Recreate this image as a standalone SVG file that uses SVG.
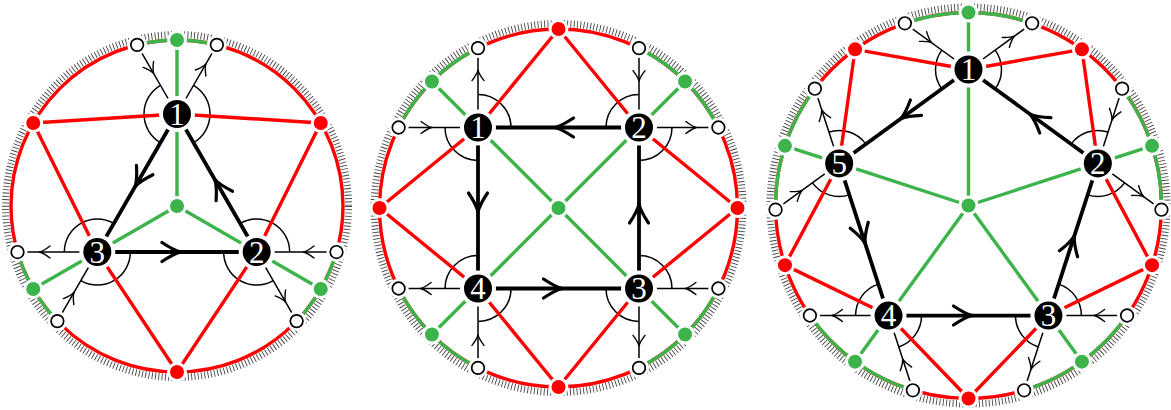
<svg xmlns="http://www.w3.org/2000/svg" xmlns:xlink="http://www.w3.org/1999/xlink" width="1171" height="410" viewBox="0 0 1171 410">
<style>
.tick{fill:none;stroke:#444;stroke-width:7;stroke-dasharray:0.9 2.4}
.ringr{fill:none;stroke:#f00;stroke-width:3.4}
.ringg{fill:none;stroke:#3cb44b;stroke-width:3.4}
.red{fill:none;stroke:#f00;stroke-width:3.4}
.grn{fill:none;stroke:#3cb44b;stroke-width:3.4}
.thk{fill:none;stroke:#000;stroke-width:3.8}
.thn{fill:none;stroke:#000;stroke-width:1.5}
.ang{fill:none;stroke:#000;stroke-width:1.5}
.rd{fill:#f00;stroke:#fff;stroke-width:6;paint-order:stroke}
.gd{fill:#3cb44b;stroke:#fff;stroke-width:6;paint-order:stroke}
.num{font-family:"Liberation Serif","DejaVu Serif",serif;font-size:31px;fill:#fff;text-anchor:middle}
</style>
<defs>
<path id="ahk" d="M-19,-9.5 Q-7,-1.5 0,0 Q-7,1.5 -19,9.5" fill="none" stroke="#000" stroke-width="3.2" stroke-linecap="round" stroke-linejoin="round"/>
<path id="ahn" d="M-10.5,-6 Q-4,-1 0,0 Q-4,1 -10.5,6" fill="none" stroke="#000" stroke-width="1.4" stroke-linecap="round" stroke-linejoin="round"/>
<g id="wc"><circle r="10" fill="#fff"/><circle r="6.3" fill="#fff" stroke="#000" stroke-width="1.7"/></g>
<g id="nd"><circle r="18" fill="#fff"/><circle r="14" fill="#000"/></g>
</defs>

<!-- Diagram 1 -->
<g id="d1-boundary">
<circle class="tick" cx="177" cy="206" r="171.5"/>
<circle class="ringr" cx="177" cy="206" r="166"/>
<path class="ringg" d="M216.87,44.86 A166,166 0 0,0 137.13,44.86 M17.51,252.03 A166,166 0 0,0 57.38,321.10 M296.62,321.10 A166,166 0 0,0 336.49,252.03"/>
</g>
<g id="d1-angles" class="ang">
<path d="M193.5,142.58 A33,33 0 0,0 193.5,85.42 M160.5,85.42 A33,33 0 0,0 160.5,142.58"/>
<path d="M113.83,223.42 A33,33 0 0,0 64.33,252 M80.83,280.58 A33,33 0 0,0 130.33,252"/>
<path d="M223.67,252 A33,33 0 0,0 273.17,280.58 M289.67,252 A33,33 0 0,0 240.17,223.42"/>
</g>
<g id="d1-connectors">
<path class="red" d="M33.24,123 L177,114 M33.24,123 L97.33,252 M320.76,123 L177,114 M320.76,123 L256.67,252 M177,372 L97.33,252 M177,372 L256.67,252"/>
<path class="grn" d="M177,206 L177,114 M177,206 L256.67,252 M177,206 L97.33,252 M177,40 L177,114 M33.24,289 L97.33,252 M320.76,289 L256.67,252"/>
<path class="thn" d="M137.13,44.86 L177,114 M216.87,44.86 L177,114 M17.51,252 L97.33,252 M57.38,321.10 L97.33,252 M336.49,252 L256.67,252 M296.62,321.10 L256.67,252"/>
<path class="thk" d="M177,114 L97.33,252 L256.67,252 Z"/>
<use xlink:href="#ahn" href="#ahn" transform="translate(153.62,73.45) rotate(60)"/>
<use xlink:href="#ahn" href="#ahn" transform="translate(205.88,63.92) rotate(-60)"/>
<use xlink:href="#ahn" href="#ahn" transform="translate(39.51,252) rotate(180)"/>
<use xlink:href="#ahn" href="#ahn" transform="translate(73.90,292.53) rotate(-60)"/>
<use xlink:href="#ahn" href="#ahn" transform="translate(303.49,252) rotate(180)"/>
<use xlink:href="#ahn" href="#ahn" transform="translate(285.61,302.05) rotate(60)"/>
<use xlink:href="#ahk" href="#ahk" transform="translate(135.17,186.46) rotate(120)"/>
<use xlink:href="#ahk" href="#ahk" transform="translate(181,252)"/>
<use xlink:href="#ahk" href="#ahk" transform="translate(214.83,179.54) rotate(-120)"/>
</g>
<g id="d1-dots">
<circle class="rd" cx="33.24" cy="123" r="7"/>
<circle class="rd" cx="320.76" cy="123" r="7"/>
<circle class="rd" cx="177" cy="372" r="7"/>
<circle class="gd" cx="177" cy="40" r="7"/>
<circle class="gd" cx="33.24" cy="289" r="7"/>
<circle class="gd" cx="320.76" cy="289" r="7"/>
<circle class="gd" cx="177" cy="206" r="7"/>
<use href="#wc" xlink:href="#wc" x="137.13" y="44.86"/>
<use href="#wc" xlink:href="#wc" x="216.87" y="44.86"/>
<use href="#wc" xlink:href="#wc" x="17.51" y="252.03"/>
<use href="#wc" xlink:href="#wc" x="57.38" y="321.10"/>
<use href="#wc" xlink:href="#wc" x="296.62" y="321.10"/>
<use href="#wc" xlink:href="#wc" x="336.49" y="252.03"/>
</g>
<g id="d1-n1"><use href="#nd" xlink:href="#nd" x="177" y="114"/><text class="num" x="177" y="124.5">1</text></g>
<g id="d1-n2"><use href="#nd" xlink:href="#nd" x="256.67" y="252"/><text class="num" x="256.67" y="262.5">2</text></g>
<g id="d1-n3"><use href="#nd" xlink:href="#nd" x="97.33" y="252"/><text class="num" x="97.33" y="262.5">3</text></g>

<!-- Diagram 2 -->
<g id="d2-boundary">
<circle class="tick" cx="558.5" cy="208" r="184.5"/>
<circle class="ringr" cx="558.5" cy="208" r="179"/>
<path class="ringg" d="M478,48.12 A179,179 0 0,0 398.62,127.5 M398.62,288.5 A179,179 0 0,0 478,367.88 M639,367.88 A179,179 0 0,0 718.38,288.5 M718.38,127.5 A179,179 0 0,0 639,48.12"/>
</g>
<g id="d2-angles" class="ang">
<path d="M511,127.5 A33,33 0 0,0 478,94.5 M445,127.5 A33,33 0 0,0 478,160.5"/>
<path d="M639,160.5 A33,33 0 0,0 672,127.5 M639,94.5 A33,33 0 0,0 606,127.5"/>
<path d="M606,288.5 A33,33 0 0,0 639,321.5 M672,288.5 A33,33 0 0,0 639,255.5"/>
<path d="M478,255.5 A33,33 0 0,0 445,288.5 M478,321.5 A33,33 0 0,0 511,288.5"/>
</g>
<g id="d2-connectors">
<path class="red" d="M558.5,29 L478,127.5 M558.5,29 L639,127.5 M737.5,208 L639,127.5 M737.5,208 L639,288.5 M558.5,387 L639,288.5 M558.5,387 L478,288.5 M379.5,208 L478,288.5 M379.5,208 L478,127.5"/>
<path class="grn" d="M558.5,208 L478,127.5 M558.5,208 L639,127.5 M558.5,208 L639,288.5 M558.5,208 L478,288.5 M431.93,81.43 L478,127.5 M685.07,81.43 L639,127.5 M685.07,334.57 L639,288.5 M431.93,334.57 L478,288.5"/>
<path class="thn" d="M478,48.12 L478,127.5 M398.62,127.5 L478,127.5 M639,48.12 L639,127.5 M718.38,127.5 L639,127.5 M718.38,288.5 L639,288.5 M639,367.88 L639,288.5 M398.62,288.5 L478,288.5 M478,367.88 L478,288.5"/>
<path class="thk" d="M478,127.5 L639,127.5 L639,288.5 L478,288.5 Z"/>
<use href="#ahn" xlink:href="#ahn" transform="translate(478,70.12) rotate(-90)"/>
<use href="#ahn" xlink:href="#ahn" transform="translate(431.62,127.5)"/>
<use href="#ahn" xlink:href="#ahn" transform="translate(639,81.12) rotate(90)"/>
<use href="#ahn" xlink:href="#ahn" transform="translate(696.38,127.5)"/>
<use href="#ahn" xlink:href="#ahn" transform="translate(685.38,288.5) rotate(180)"/>
<use href="#ahn" xlink:href="#ahn" transform="translate(639,345.88) rotate(90)"/>
<use href="#ahn" xlink:href="#ahn" transform="translate(420.62,288.5) rotate(180)"/>
<use href="#ahn" xlink:href="#ahn" transform="translate(478,334.88) rotate(-90)"/>
<use href="#ahk" xlink:href="#ahk" transform="translate(554.5,127.5) rotate(180)"/>
<use href="#ahk" xlink:href="#ahk" transform="translate(478,212) rotate(90)"/>
<use href="#ahk" xlink:href="#ahk" transform="translate(562.5,288.5)"/>
<use href="#ahk" xlink:href="#ahk" transform="translate(639,204) rotate(-90)"/>
</g>
<g id="d2-dots">
<circle class="rd" cx="558.5" cy="29" r="7"/>
<circle class="rd" cx="737.5" cy="208" r="7"/>
<circle class="rd" cx="558.5" cy="387" r="7"/>
<circle class="rd" cx="379.5" cy="208" r="7"/>
<circle class="gd" cx="431.93" cy="81.43" r="7"/>
<circle class="gd" cx="685.07" cy="81.43" r="7"/>
<circle class="gd" cx="685.07" cy="334.57" r="7"/>
<circle class="gd" cx="431.93" cy="334.57" r="7"/>
<circle class="gd" cx="558.5" cy="208" r="7"/>
<use href="#wc" xlink:href="#wc" x="478" y="48.12"/>
<use href="#wc" xlink:href="#wc" x="398.62" y="127.5"/>
<use href="#wc" xlink:href="#wc" x="639" y="48.12"/>
<use href="#wc" xlink:href="#wc" x="718.38" y="127.5"/>
<use href="#wc" xlink:href="#wc" x="718.38" y="288.5"/>
<use href="#wc" xlink:href="#wc" x="639" y="367.88"/>
<use href="#wc" xlink:href="#wc" x="398.62" y="288.5"/>
<use href="#wc" xlink:href="#wc" x="478" y="367.88"/>
</g>
<g id="d2-n1"><use href="#nd" xlink:href="#nd" x="478" y="127.5"/><text class="num" x="478" y="138">1</text></g>
<g id="d2-n2"><use href="#nd" xlink:href="#nd" x="639" y="127.5"/><text class="num" x="639" y="138">2</text></g>
<g id="d2-n3"><use href="#nd" xlink:href="#nd" x="639" y="288.5"/><text class="num" x="639" y="299">3</text></g>
<g id="d2-n4"><use href="#nd" xlink:href="#nd" x="478" y="288.5"/><text class="num" x="478" y="299">4</text></g>

<!-- Diagram 3 -->
<g id="d3-boundary">
<circle class="tick" cx="968.5" cy="205.5" r="198.5"/>
<circle class="ringr" cx="968.5" cy="205.5" r="193"/>
<path class="ringg" d="M1032.13,23.29 A193,193 0 0,0 904.87,23.29 M1161.45,209.71 A193,193 0 0,0 1122.13,88.68 M1024.12,390.31 A193,193 0 0,0 1127.08,315.51 M809.92,315.51 A193,193 0 0,0 912.88,390.31 M814.87,88.68 A193,193 0 0,0 775.55,209.71"/>
</g>
<g id="d3-angles" class="ang">
<path d="M995.20,88.90 A33,33 0 0,0 995.20,50.10 M941.80,50.10 A33,33 0 0,0 941.80,88.90"/>
<path d="M1087.64,194.86 A33,33 0 0,0 1124.54,182.87 M1108.04,132.08 A33,33 0 0,0 1071.14,144.07"/>
<path d="M1015.44,315.53 A33,33 0 0,0 1038.24,346.92 M1081.44,315.53 A33,33 0 0,0 1058.64,284.14"/>
<path d="M878.36,284.14 A33,33 0 0,0 855.56,315.53 M898.76,346.92 A33,33 0 0,0 921.56,315.53"/>
<path d="M865.86,144.07 A33,33 0 0,0 828.96,132.08 M812.46,182.87 A33,33 0 0,0 849.36,194.86"/>
</g>
<g id="d3-connectors">
<path class="red" d="M1081.94,49.36 L968.5,69.5 M1081.94,49.36 L1097.84,163.47 M855.06,49.36 L968.5,69.5 M855.06,49.36 L839.16,163.47 M784.95,265.14 L839.16,163.47 M784.95,265.14 L888.56,315.53 M968.5,398.5 L888.56,315.53 M968.5,398.5 L1048.44,315.53 M1152.05,265.14 L1048.44,315.53 M1152.05,265.14 L1097.84,163.47"/>
<path class="grn" d="M968.5,205.5 L968.5,69.5 M968.5,205.5 L1097.84,163.47 M968.5,205.5 L1048.44,315.53 M968.5,205.5 L888.56,315.53 M968.5,205.5 L839.16,163.47 M968.5,12.5 L968.5,69.5 M1152.05,145.86 L1097.84,163.47 M1081.94,361.64 L1048.44,315.53 M855.06,361.64 L888.56,315.53 M784.95,145.86 L839.16,163.47"/>
<path class="thn" d="M1032.13,23.29 L968.5,69.5 M904.87,23.29 L968.5,69.5 M1161.45,209.71 L1097.84,163.47 M1122.13,88.68 L1097.84,163.47 M1024.12,390.31 L1048.44,315.53 M1127.08,315.51 L1048.44,315.53 M809.92,315.51 L888.56,315.53 M912.88,390.31 L888.56,315.53 M814.87,88.68 L839.16,163.47 M775.55,209.71 L839.16,163.47"/>
<path class="thk" d="M968.5,69.5 L839.16,163.47 L888.56,315.53 L1048.44,315.53 L1097.84,163.47 Z"/>
<use href="#ahn" xlink:href="#ahn" transform="translate(1014.33,36.22) rotate(-36)"/>
<use href="#ahn" xlink:href="#ahn" transform="translate(931.57,42.68) rotate(36)"/>
<use href="#ahn" xlink:href="#ahn" transform="translate(1143.65,196.77) rotate(36)"/>
<use href="#ahn" xlink:href="#ahn" transform="translate(1111.94,120.06) rotate(108)"/>
<use href="#ahn" xlink:href="#ahn" transform="translate(1030.92,369.39) rotate(108)"/>
<use href="#ahn" xlink:href="#ahn" transform="translate(1094.08,315.52) rotate(180)"/>
<use href="#ahn" xlink:href="#ahn" transform="translate(831.92,315.52) rotate(180)"/>
<use href="#ahn" xlink:href="#ahn" transform="translate(902.68,358.93) rotate(-108)"/>
<use href="#ahn" xlink:href="#ahn" transform="translate(821.67,109.60) rotate(-108)"/>
<use href="#ahn" xlink:href="#ahn" transform="translate(802.24,190.31) rotate(-36)"/>
<use href="#ahk" xlink:href="#ahk" transform="translate(900.59,118.84) rotate(144)"/>
<use href="#ahk" xlink:href="#ahk" transform="translate(865.10,243.30) rotate(72)"/>
<use href="#ahk" xlink:href="#ahk" transform="translate(972.5,315.53)"/>
<use href="#ahk" xlink:href="#ahk" transform="translate(1074.38,235.70) rotate(-72)"/>
<use href="#ahk" xlink:href="#ahk" transform="translate(1029.93,114.14) rotate(-144)"/>
</g>
<g id="d3-dots">
<circle class="rd" cx="1081.94" cy="49.36" r="7"/>
<circle class="rd" cx="855.06" cy="49.36" r="7"/>
<circle class="rd" cx="784.95" cy="265.14" r="7"/>
<circle class="rd" cx="968.5" cy="398.5" r="7"/>
<circle class="rd" cx="1152.05" cy="265.14" r="7"/>
<circle class="gd" cx="968.5" cy="12.5" r="7"/>
<circle class="gd" cx="1152.05" cy="145.86" r="7"/>
<circle class="gd" cx="784.95" cy="145.86" r="7"/>
<circle class="gd" cx="855.06" cy="361.64" r="7"/>
<circle class="gd" cx="1081.94" cy="361.64" r="7"/>
<circle class="gd" cx="968.5" cy="205.5" r="7"/>
<use href="#wc" xlink:href="#wc" x="1032.13" y="23.29"/>
<use href="#wc" xlink:href="#wc" x="904.87" y="23.29"/>
<use href="#wc" xlink:href="#wc" x="1161.45" y="209.71"/>
<use href="#wc" xlink:href="#wc" x="1122.13" y="88.68"/>
<use href="#wc" xlink:href="#wc" x="1024.12" y="390.31"/>
<use href="#wc" xlink:href="#wc" x="1127.08" y="315.51"/>
<use href="#wc" xlink:href="#wc" x="809.92" y="315.51"/>
<use href="#wc" xlink:href="#wc" x="912.88" y="390.31"/>
<use href="#wc" xlink:href="#wc" x="814.87" y="88.68"/>
<use href="#wc" xlink:href="#wc" x="775.55" y="209.71"/>
</g>
<g id="d3-n1"><use href="#nd" xlink:href="#nd" x="968.5" y="69.5"/><text class="num" x="968.5" y="80">1</text></g>
<g id="d3-n2"><use href="#nd" xlink:href="#nd" x="1097.84" y="163.47"/><text class="num" x="1097.84" y="174">2</text></g>
<g id="d3-n3"><use href="#nd" xlink:href="#nd" x="1048.44" y="315.53"/><text class="num" x="1048.44" y="326">3</text></g>
<g id="d3-n4"><use href="#nd" xlink:href="#nd" x="888.56" y="315.53"/><text class="num" x="888.56" y="326">4</text></g>
<g id="d3-n5"><use href="#nd" xlink:href="#nd" x="839.16" y="163.47"/><text class="num" x="839.16" y="174">5</text></g>
</svg>
